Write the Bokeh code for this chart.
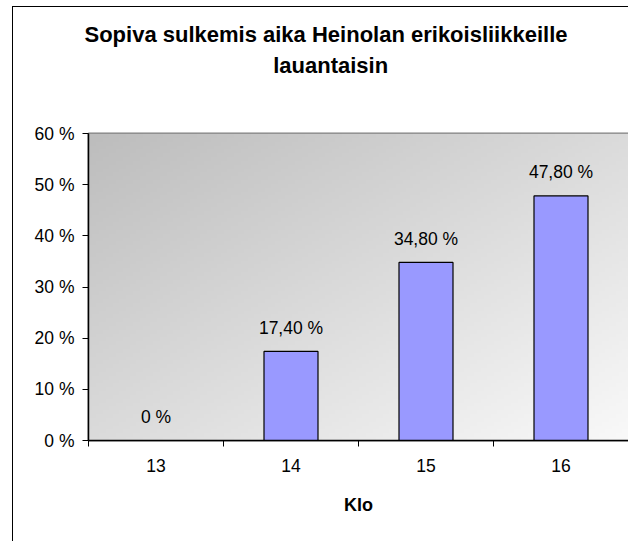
import numpy as np
from bokeh.plotting import figure
from bokeh.models import Range1d, FixedTicker, Title, LinearAxis, ColumnDataSource
from bokeh.core.properties import value
from bokeh.embed import file_html
from bokeh.resources import INLINE

# ---- data ----
title_lines = ["Sopiva sulkemis aika Heinolan erikoisliikkeille", "lauantaisin"]
categories = ["13", "14", "15", "16"]
values = [0.0, 17.4, 34.8, 47.8]
y_ticks = [0, 10, 20, 30, 40, 50, 60]
y_tick_labels = ["0 %", "10 %", "20 %", "30 %", "40 %", "50 %", "60 %"]
x_axis_label = "Klo"

FONT = "Liberation Sans"

def fmt(v):
    if v == 0:
        return "0 %"
    return ("%.2f %%" % v).replace(".", ",")

xs = list(range(len(categories)))
x_start, x_end = -0.5, len(categories) - 0.5
y_start, y_end = y_ticks[0], y_ticks[-1]

p = figure(
    width=616, height=535,
    x_range=Range1d(x_start, x_end), y_range=Range1d(y_start, y_end),
    output_backend="svg", toolbar_location=None, title=None,
    min_border_left=75, min_border_right=1, min_border_top=126, min_border_bottom=102,
)
p.styles = {"margin-left": "12px", "margin-top": "6px",
            "border-left": "1px solid black", "border-top": "1px solid black"}
p.border_fill_color = "white"
p.outline_line_color = "#808080"
p.outline_line_width = 2

# gradient plot-area background
N, M = 80, 160
u = np.linspace(0, 1, M)[None, :]
vtop = np.linspace(1, 0, N)[:, None]   # row 0 is bottom
t = (u + vtop) / 2.0
g = (189 + 60 * t).astype(np.uint32)
img = (255 << 24) | (g << 16) | (g << 8) | g
p.image_rgba(image=[img.astype(np.uint32)], x=x_start, y=y_start,
             dw=x_end - x_start, dh=y_end - y_start)

# grid
p.xgrid.visible = False
p.ygrid.ticker = FixedTicker(ticks=y_ticks[1:-1])
p.ygrid.grid_line_color = "black"
p.ygrid.grid_line_width = 1

# bars
src = ColumnDataSource(dict(x=xs, top=values, label=[fmt(v) for v in values]))
p.vbar(x="x", top="top", bottom=0, width=0.4, source=src,
       fill_color="#9999FF", line_color="black", line_width=1.2)
p.text(x="x", y="top", text="label", source=src, text_align="center",
       text_baseline="alphabetic", y_offset=-23.5, text_font=value(FONT),
       text_font_size="17.5px", text_color="black")

# x axis
xa = p.xaxis[0]
xa.ticker = FixedTicker(ticks=xs, minor_ticks=[i - 0.5 for i in range(len(categories) + 1)])
xa.major_label_overrides = {i: c for i, c in enumerate(categories)}
xa.major_tick_out = 0
xa.major_tick_in = 0
xa.minor_tick_out = 6
xa.minor_tick_in = 0
xa.minor_tick_line_color = "black"
xa.axis_line_color = "black"
xa.axis_line_width = 1.5
xa.major_label_standoff = 12
xa.major_label_text_font = FONT
xa.major_label_text_font_size = "17.5px"
xa.major_label_text_color = "black"
xa.axis_label = x_axis_label
xa.axis_label_text_font = FONT
xa.axis_label_text_font_size = "18px"
xa.axis_label_text_font_style = "bold"
xa.axis_label_text_color = "black"
xa.axis_label_standoff = 20

# y axis
ya = p.yaxis[0]
ya.ticker = FixedTicker(ticks=y_ticks)
ya.major_label_overrides = {t_: l for t_, l in zip(y_ticks, y_tick_labels)}
ya.major_tick_out = 6
ya.major_tick_in = 0
ya.minor_tick_out = 0
ya.minor_tick_in = 0
ya.axis_line_color = "black"
ya.axis_line_width = 1.5
ya.major_label_standoff = 8
ya.major_label_text_font = FONT
ya.major_label_text_font_size = "17.5px"
ya.major_label_text_color = "black"

# invisible spacer between the frame and the title lines
spacer = LinearAxis(ticker=FixedTicker(ticks=[xs[0]]), axis_line_color=None,
                    major_tick_out=54, major_tick_in=0, major_tick_line_color=None,
                    minor_tick_out=0, minor_tick_in=0, minor_tick_line_color=None,
                    major_label_overrides={xs[0]: ""}, major_label_text_font_size="1px",
                    major_label_standoff=0, axis_label_standoff=0)
p.add_layout(spacer, "above")

# two-line title (inner line added first)
for line, off in [(title_lines[1], 184.7), (title_lines[0], -4)]:
    p.add_layout(Title(text=line, align="left", offset=off, standoff=4,
                       text_font=FONT, text_font_size="22px", text_font_style="bold",
                       text_color="black"), "above")

open("out.html", "w").write(file_html(p, INLINE))
